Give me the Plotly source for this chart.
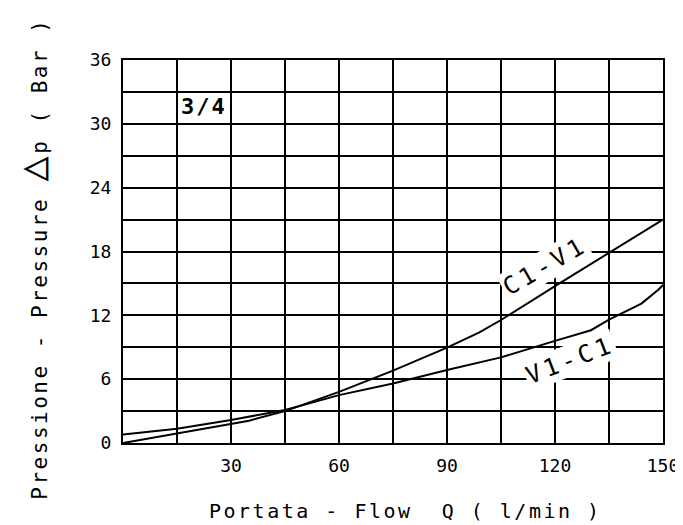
import plotly.graph_objects as go

# Data
flow_c1v1 = [0, 15, 30, 35, 45, 60, 75, 90, 99, 105, 120, 135, 150]
dp_c1v1 = [0, 0.9, 1.76, 2.1, 3.0, 4.8, 6.8, 8.96, 10.4, 11.56, 14.75, 17.9, 21.0]

flow_v1c1 = [0, 15, 30, 45, 60, 75, 90, 105, 120, 130, 135, 144, 148.7, 150]
dp_v1c1 = [0.8, 1.35, 2.16, 3.1, 4.5, 5.6, 6.86, 8.05, 9.6, 10.6, 11.6, 13.1, 14.4, 14.85]

x_ticks = list(range(0, 151, 15))
x_tick_text = ["" if v % 30 or v == 0 else str(v) for v in x_ticks]
y_ticks = list(range(0, 37, 3))
y_tick_text = [str(v) if v % 6 == 0 else "" for v in y_ticks]

FONT = "DejaVu Sans Mono"

fig = go.Figure()
fig.add_trace(go.Scatter(x=flow_c1v1, y=dp_c1v1, mode="lines",
                         line=dict(color="black", width=2), name="C1-V1"))
fig.add_trace(go.Scatter(x=flow_v1c1, y=dp_v1c1, mode="lines",
                         line=dict(color="black", width=2), name="V1-C1"))

axis_common = dict(showgrid=True, gridcolor="black", gridwidth=2,
                   showline=True, linecolor="black", linewidth=2, mirror=True,
                   zeroline=False, ticks="", automargin=False,
                   tickfont=dict(family=FONT, size=18, color="black"))

fig.update_xaxes(range=[0, 150], tickmode="array", tickvals=x_ticks, ticktext=x_tick_text,
                 ticklabelstandoff=5, **axis_common)
fig.update_yaxes(range=[0, 36], tickmode="array", tickvals=y_ticks, ticktext=y_tick_text,
                 ticklabelstandoff=6, **axis_common)

fig.add_annotation(x=117.3, y=16.6, xref="x", yref="y",
                   text="<span style='letter-spacing:4px'>C1-V1</span>", showarrow=False,
                   textangle=-30, bgcolor="white", font=dict(family=FONT, size=24, color="black"))
fig.add_annotation(x=124.3, y=7.8, xref="x", yref="y",
                   text="<span style='letter-spacing:4px'>V1-C1</span>", showarrow=False,
                   textangle=-21, bgcolor="white", font=dict(family=FONT, size=24, color="black"))
fig.add_annotation(x=15.6, y=31.6, xref="x", yref="y",
                   text="<b><span style='letter-spacing:2px'>3/4</span></b>", showarrow=False,
                   xanchor="left", yanchor="middle", font=dict(family=FONT, size=22, color="black"))

fig.add_annotation(x=-0.168, y=0.482, xref="paper", yref="paper", showarrow=False, textangle=-90,
                   xanchor="center", yanchor="middle",
                   text="<span style='letter-spacing:2.5px'>Pressione - Pressure "
                        "<span style='font-size:42px'>△</span>p ( Bar )</span>",
                   font=dict(family=FONT, size=21, color="black"))
fig.add_annotation(x=0.524, y=-0.178, xref="paper", yref="paper", showarrow=False,
                   xanchor="center", yanchor="middle",
                   text="<span style='letter-spacing:2.5px'>Portata - Flow  Q ( l/min )</span>",
                   font=dict(family=FONT, size=20, color="black"))

# page body adds an ~8px offset; compensate so the plot lands where the reference has it
fig.update_layout(width=675, height=517, plot_bgcolor="white", paper_bgcolor="white",
                  showlegend=False, margin=dict(l=115, r=20, t=52, b=82, autoexpand=False))

fig.write_html("out.html")
